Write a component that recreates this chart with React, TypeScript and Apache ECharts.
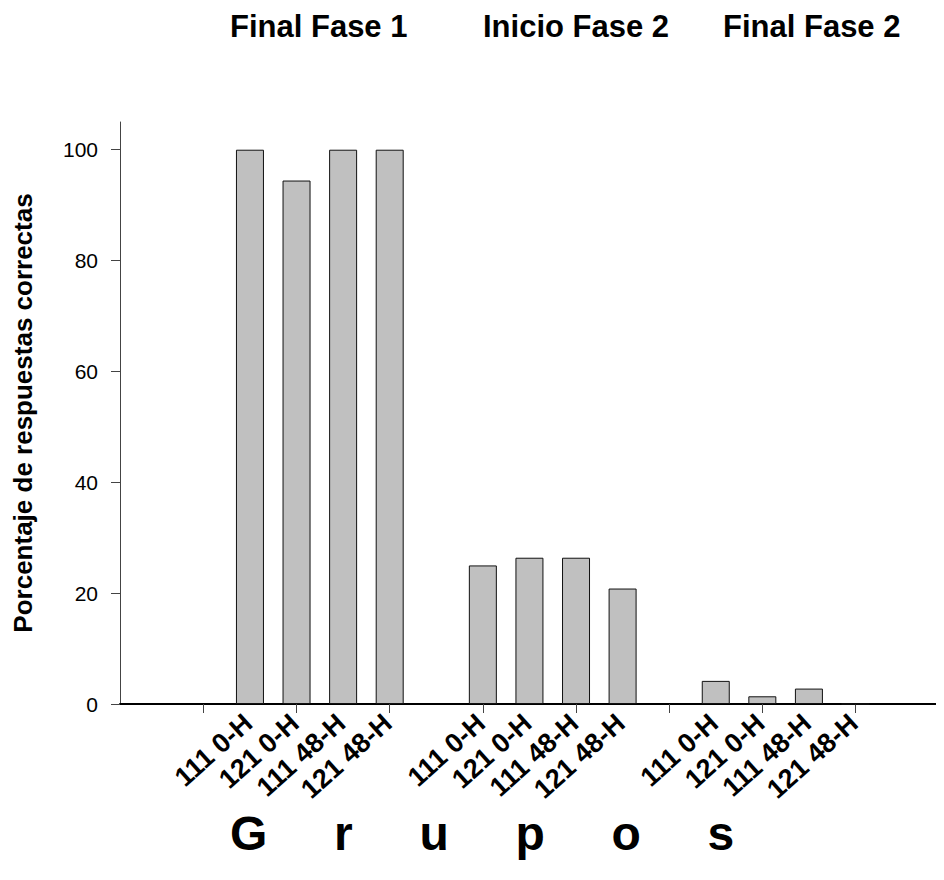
import React, { useEffect, useRef } from "react";
import * as echarts from "echarts";

const phaseTitles = ["Final Fase 1", "Inicio Fase 2", "Final Fase 2"];
const groupLabels = ["111 0-H", "121 0-H", "111 48-H", "121 48-H"];
const finalFase1 = [100, 94.44, 100, 100];
const inicioFase2 = [25, 26.39, 26.39, 20.83];
const finalFase2 = [4.17, 1.39, 2.78, 0];
// x positions (in slot units) where each phase's four bars start
const phaseStart = [3, 8, 13];
const xTickValues = [2, 4, 6, 8, 10, 12, 14, 16];
const yTickValues = [0, 20, 40, 60, 80, 100];
const xAxisTitle = "G     r     u     p     o     s";
const yAxisTitle = "Porcentaje de respuestas correctas";

const FONT = "Liberation Sans, Arial, sans-serif";
const LABEL_SHIFT = -0.04;

export default function App() {
  const ref = useRef<HTMLDivElement>(null);
  useEffect(() => {
    if (!ref.current) return;
    const chart = echarts.init(ref.current, null, { renderer: "svg" });
    const seriesValues = [finalFase1, inicioFase2, finalFase2];
    const data: [number, number][] = [];
    const labelMap: Record<number, string> = {};
    seriesValues.forEach((vals, g) => {
      vals.forEach((v, i) => {
        const pos = phaseStart[g] + i;
        data.push([pos, v]);
        labelMap[pos] = groupLabels[i];
      });
    });
    const labelValues = Object.keys(labelMap).map((k) => Number(k) + LABEL_SHIFT);

    const titleStyle = { fontFamily: FONT, fontSize: 31, fontWeight: "bold", color: "#000" };

    chart.setOption({
      animation: false,
      backgroundColor: "#ffffff",
      title: [
        { text: phaseTitles[0], left: 222, top: 3, padding: 0, textStyle: titleStyle },
        { text: phaseTitles[1], left: 475, top: 3, padding: 0, textStyle: titleStyle },
        { text: phaseTitles[2], left: 715, top: 3, padding: 0, textStyle: titleStyle },
        {
          text: xAxisTitle,
          left: 222,
          top: 801,
          padding: 0,
          textStyle: { fontFamily: FONT, fontSize: 48, fontWeight: "bold", color: "#000" },
        },
      ],
      grid: {
        left: 112,
        right: 0,
        top: 114,
        bottom: 176,
        containLabel: false,
        outerBoundsMode: "none",
      },
      xAxis: {
        type: "value",
        min: 0.21,
        max: 17.9,
        splitLine: { show: false },
        axisLine: { show: true, lineStyle: { color: "#000", width: 2 } },
        axisTick: {
          show: true,
          length: 9,
          customValues: xTickValues,
          lineStyle: { color: "#444", width: 1 },
        },
        axisLabel: {
          show: true,
          customValues: labelValues,
          rotate: 42,
          margin: 15,
          fontFamily: FONT,
          fontSize: 27,
          fontWeight: "bold",
          color: "#000",
          formatter: (v: number) => labelMap[Math.round(v - LABEL_SHIFT)] ?? "",
        },
      },
      yAxis: {
        type: "value",
        min: 0,
        max: 105,
        name: yAxisTitle,
        nameLocation: "middle",
        nameGap: 84,
        nameTextStyle: { fontFamily: FONT, fontSize: 26, fontWeight: "bold", color: "#000" },
        splitLine: { show: false },
        axisLine: { show: true, lineStyle: { color: "#444", width: 1 } },
        axisTick: {
          show: true,
          length: 9,
          customValues: yTickValues,
          lineStyle: { color: "#444", width: 1 },
        },
        axisLabel: {
          show: true,
          customValues: yTickValues,
          margin: 22,
          fontFamily: FONT,
          fontSize: 21,
          color: "#000",
        },
      },
      series: [
        {
          type: "bar",
          data,
          barWidth: 28,
          itemStyle: { color: "#c0c0c0", borderColor: "#111", borderWidth: 1 },
        },
      ],
    });
    return () => chart.dispose();
  }, []);
  return <div ref={ref} style={{ width: 936, height: 872 }} />;
}
